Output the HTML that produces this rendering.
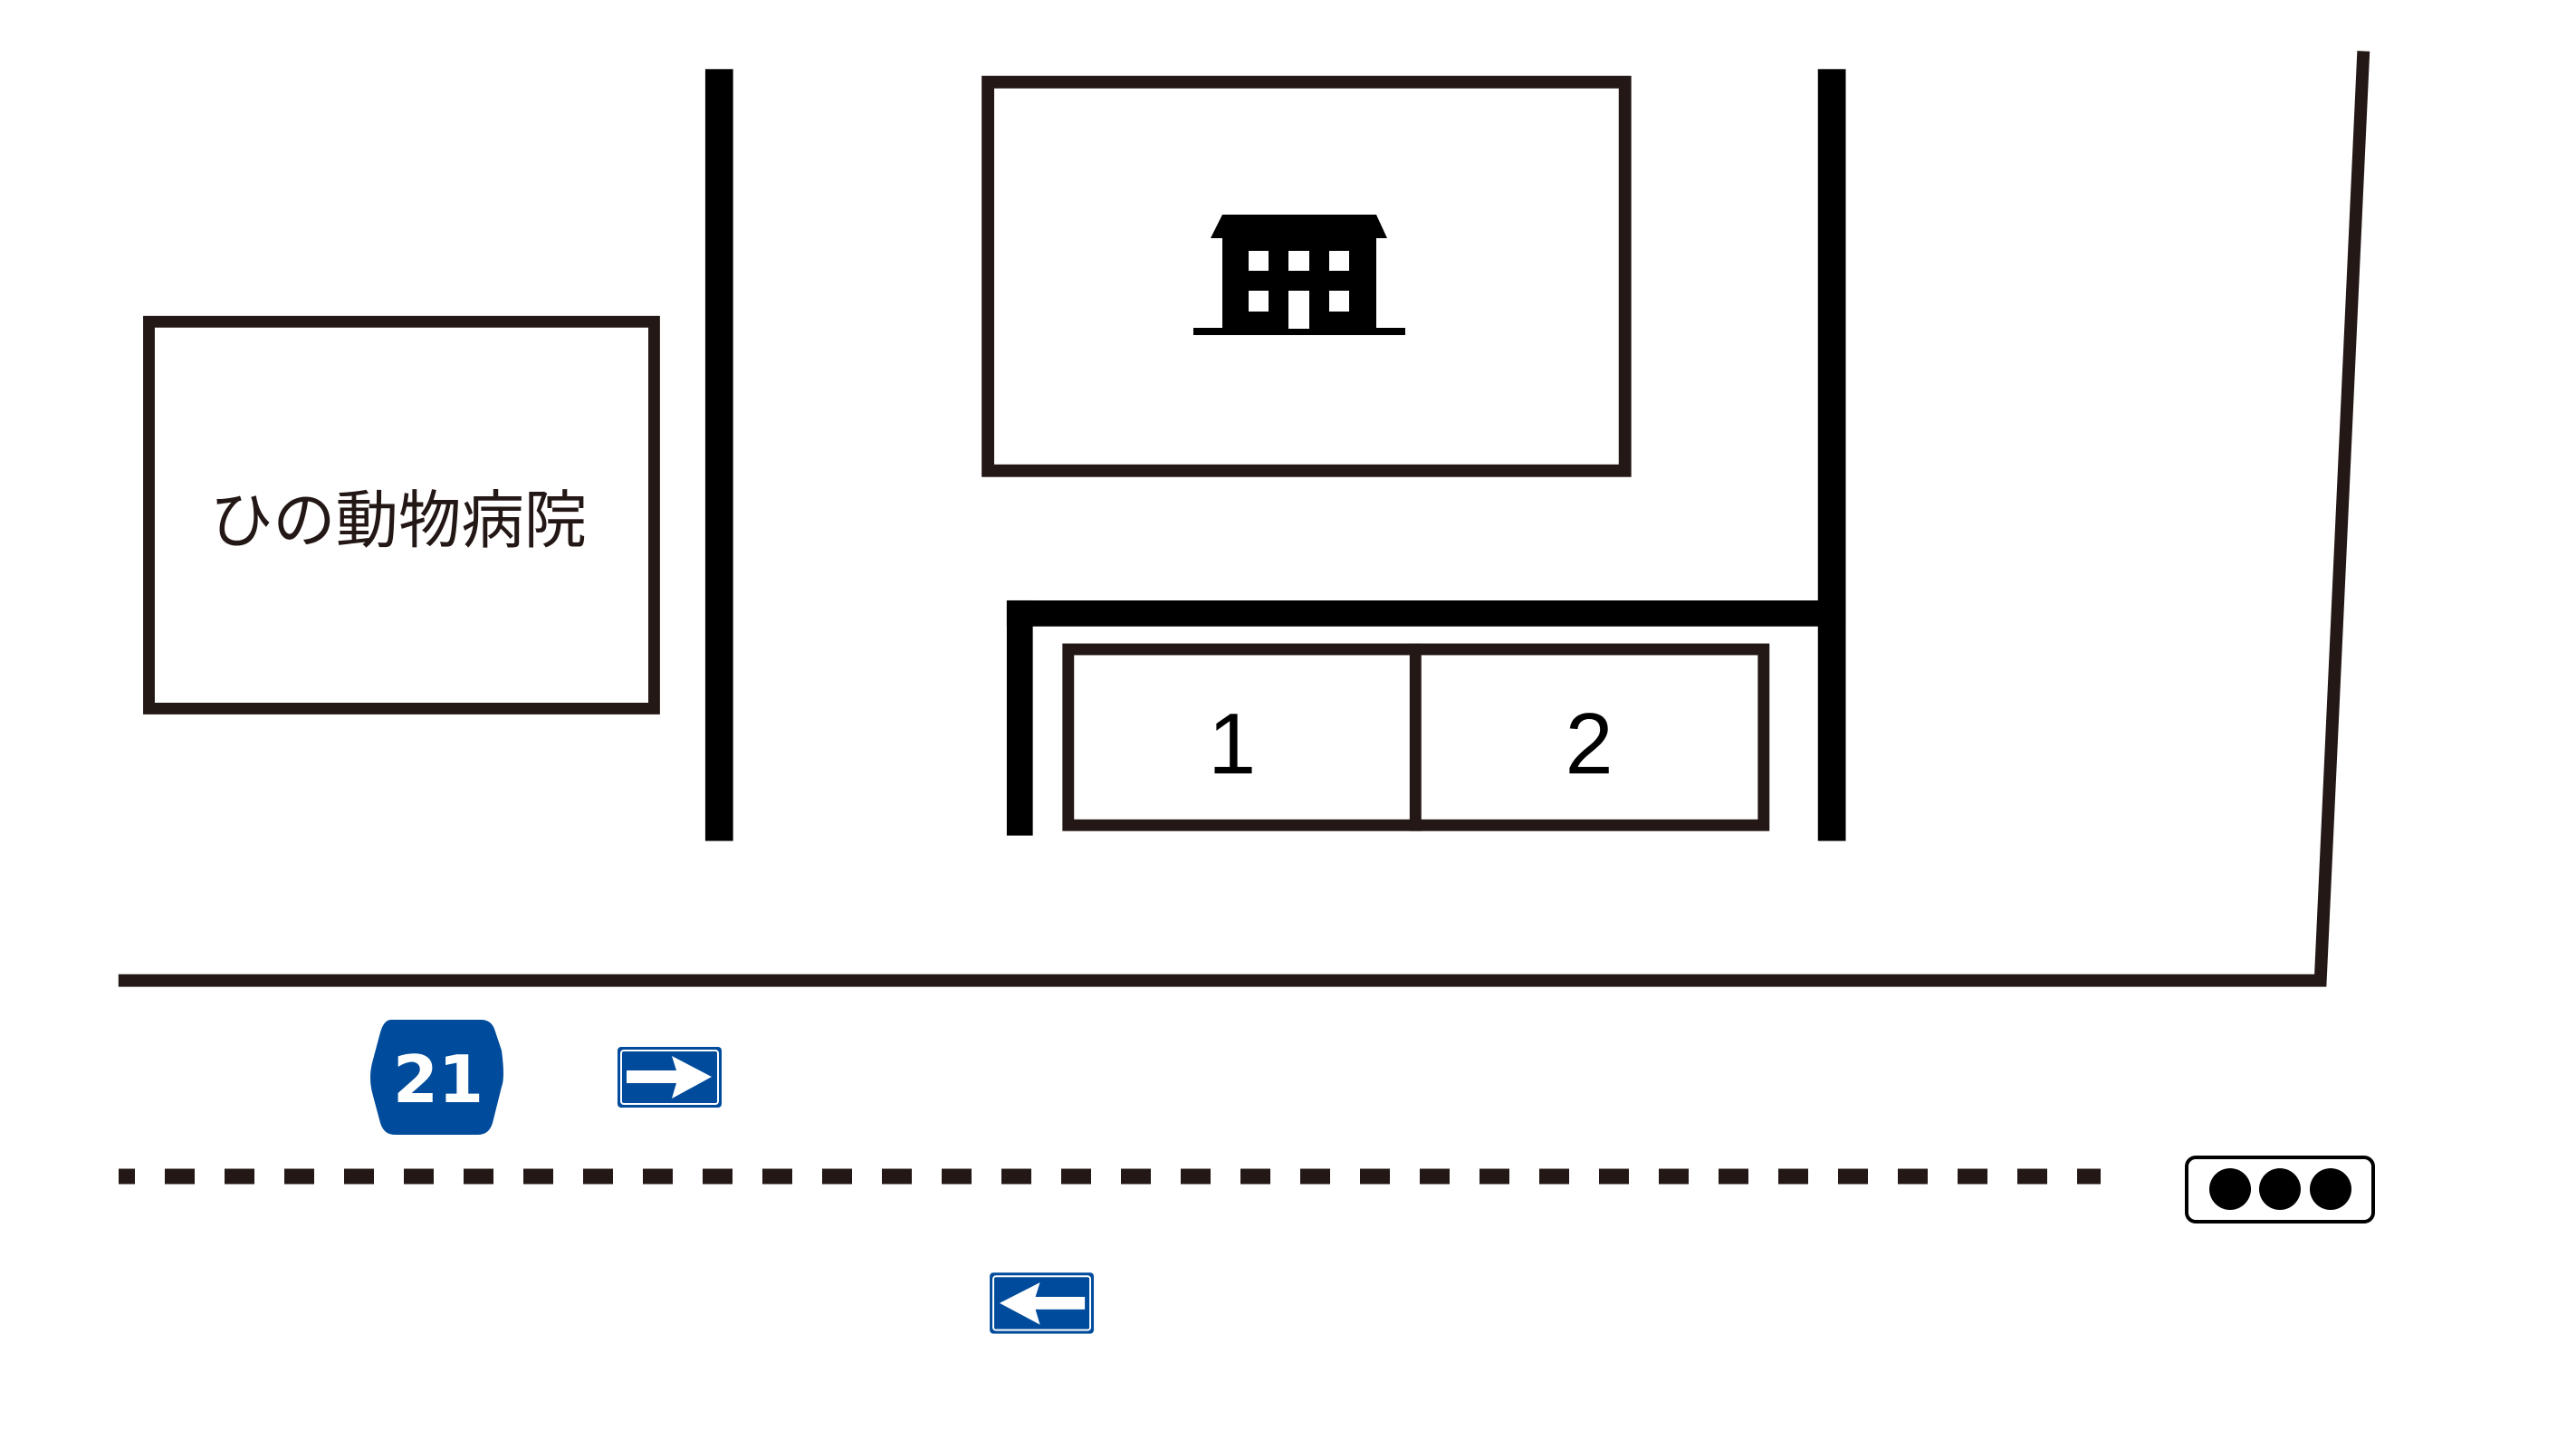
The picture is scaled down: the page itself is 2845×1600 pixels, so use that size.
<!DOCTYPE html>
<html><head><meta charset="utf-8"><style>html,body{margin:0;padding:0;background:#fff}svg{display:block}</style></head>
<body>
<svg width="2845" height="1600" viewBox="0 0 2845 1600" xmlns="http://www.w3.org/2000/svg">
<rect width="2845" height="1600" fill="#fff"/>
<g transform="scale(0.991)">
<rect x="166" y="358.5" width="563" height="431" fill="none" stroke="#231815" stroke-width="13"/>
<text x="444" y="604" font-family="'Liberation Sans','Noto Sans CJK JP',sans-serif" font-size="70" text-anchor="middle" fill="#231815">ひの動物病院</text>
<rect x="786" y="77" width="31" height="860" fill="#000"/>
<rect x="2026" y="77" width="31" height="860" fill="#000"/>
<rect x="1101" y="91.5" width="710" height="433" fill="none" stroke="#231815" stroke-width="14"/>
<rect x="1122" y="669" width="935" height="29" fill="#000"/>
<rect x="1122" y="669" width="29" height="262" fill="#000"/>
<rect x="1190.5" y="723.5" width="775" height="196" fill="none" stroke="#231815" stroke-width="13"/>
<rect x="1571" y="717" width="13" height="209" fill="#231815"/>
<text x="1373" y="862" font-family="'Liberation Sans','Noto Sans CJK JP',sans-serif" font-size="96" text-anchor="middle" fill="#000">1</text>
<text x="1771" y="862" font-family="'Liberation Sans','Noto Sans CJK JP',sans-serif" font-size="96" text-anchor="middle" fill="#000">2</text>
<polyline points="132,1092.5 2586,1092.5 2634,57" fill="none" stroke="#231815" stroke-width="14"/>
<rect x="1103" y="1418" width="116" height="68" rx="4" fill="#004b9b"/>
<rect x="1107" y="1422" width="108" height="60" rx="3" fill="none" stroke="#fff" stroke-width="2"/>
<polygon points="1209,1445 1154,1445 1159,1429 1114,1452 1159,1476 1154,1459 1209,1459" fill="#fff"/>
</g>
<line x1="131" y1="1299" x2="2320" y2="1299" stroke="#231815" stroke-width="17" stroke-dasharray="33 33" stroke-dashoffset="15"/>
<g fill="#000">
<polygon points="1350,237 1520,237 1532,263 1337,263"/>
<rect x="1350" y="262" width="170" height="104"/>
<rect x="1318" y="362" width="234" height="8"/>
</g>
<g fill="#fff">
<rect x="1379" y="277" width="22" height="22"/><rect x="1423" y="277" width="23" height="22"/><rect x="1468" y="277" width="22" height="22"/>
<rect x="1379" y="321" width="22" height="23"/><rect x="1423" y="321" width="23" height="42"/><rect x="1468" y="321" width="22" height="23"/>
</g>
<path d="M432,1126 L531,1126 Q542,1126 546,1136 L554,1160 Q558,1190 554,1200 L544,1240 Q540,1253 528,1253 L436,1253 Q424,1253 420,1240 L412,1210 Q406,1190 412,1170 L420,1140 Q424,1126 432,1126 Z" fill="#004b9b"/>
<text x="484" y="1217" font-family="'DejaVu Sans','Liberation Sans',sans-serif" font-weight="bold" font-size="72" text-anchor="middle" fill="#fff">21</text>
<rect x="682" y="1156" width="115" height="67" rx="4" fill="#004b9b"/>
<rect x="686" y="1160" width="107" height="59" rx="3" fill="none" stroke="#fff" stroke-width="2"/>
<polygon points="692,1182 747,1182 742,1166 786,1189 742,1213 747,1196 692,1196" fill="#fff"/>
<rect x="2415" y="1278" width="206" height="71" rx="10" fill="#fff" stroke="#000" stroke-width="4"/>
<circle cx="2463" cy="1313" r="23" fill="#000"/>
<circle cx="2518" cy="1313" r="23" fill="#000"/>
<circle cx="2574" cy="1313" r="23" fill="#000"/>
</svg>
</body></html>
